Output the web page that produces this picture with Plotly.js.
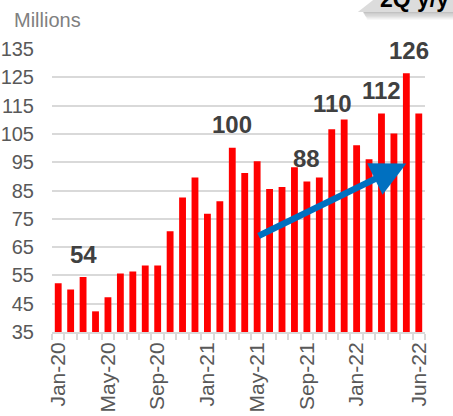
<!DOCTYPE html>
<html>
<head>
<meta charset="utf-8">
<script src="https://cdn.plot.ly/plotly-3.0.1.min.js"></script>
<style>html,body{margin:0;padding:0;background:#fff;}#chart{width:453px;height:416px;}</style>
</head>
<body>
<div id="chart"></div>
<script>
const months = ["Jan-20","Feb-20","Mar-20","Apr-20","May-20","Jun-20","Jul-20","Aug-20","Sep-20","Oct-20","Nov-20","Dec-20",
                "Jan-21","Feb-21","Mar-21","Apr-21","May-21","Jun-21","Jul-21","Aug-21","Sep-21","Oct-21","Nov-21","Dec-21",
                "Jan-22","Feb-22","Mar-22","Apr-22","May-22","Jun-22"];
const values = [52.2, 50.0, 54.4, 42.3, 47.3, 55.7, 56.4, 58.5, 58.5, 70.6, 82.5, 89.6,
                76.8, 81.2, 100.1, 91.2, 95.3, 85.5, 86.2, 93.2, 88.2, 89.6, 106.6, 110.1,
                101.0, 96.0, 112.2, 105.1, 126.4, 112.2];
const shownTicks = ["Jan-20","May-20","Sep-20","Jan-21","May-21","Sep-21","Jan-22","Jun-22"];
const labelMonths = ["Mar-20","Mar-21","Sep-21","Dec-21","Mar-22","May-22"];
const labelTexts = ["54","100","88","110","112","126"];
const trendFrom = {month: "May-21", value: 68.7};
const trendTo = {month: "May-22", value: 94.5};
const yTicks = [35,45,55,65,75,85,95,105,115,125,135];

const font = "Liberation Sans, Arial, sans-serif";

const annotations = [];
labelMonths.forEach((m, k) => {
  const i = months.indexOf(m);
  const special = labelTexts[k] === "110";
  annotations.push({
    x: m, y: values[i], xref: "x", yref: "y",
    text: "<b>" + labelTexts[k] + "</b>", showarrow: false,
    yanchor: "middle", xanchor: "center",
    yshift: special ? 16 : 23, xshift: special ? -12 : (labelTexts[k] === "126" ? 3 : 0),
    font: {family: font, size: 24, color: "#404040"}
  });
});
annotations.push({
  x: months.indexOf(trendTo.month), y: trendTo.value,
  ax: months.indexOf(trendFrom.month), ay: trendFrom.value,
  xref: "x", yref: "y", axref: "x", ayref: "y",
  text: "", showarrow: true, arrowhead: 2, arrowsize: 1.08, arrowwidth: 6.5, arrowcolor: "#0070c0"
});
annotations.push({
  x: -0.011, y: 1.102, xref: "paper", yref: "paper", text: "Millions", showarrow: false,
  xanchor: "center", yanchor: "middle", font: {family: font, size: 20, color: "#808080"}
});
annotations.push({
  x: 0.973, y: 1.175, xref: "paper", yref: "paper", text: "<b>2Q y/y</b>", showarrow: false,
  xanchor: "center", yanchor: "middle", font: {family: font, size: 23, color: "#000000"}
});

const shapes = [];
for (let s = 0; s < 6; s++) {
  shapes.push({type: "rect", xref: "paper", yref: "paper",
    x0: 0.835 + s*0.002, x1: 1.08, y0: 1.131 - (s+1)*0.0045, y1: 1.131 - s*0.0045,
    fillcolor: "rgba(120,120,120," + (0.45 - s*0.07) + ")", line: {width: 0}, layer: "above"});
}
shapes.push({type: "path", xref: "paper", yref: "paper",
  path: "M 0.820 1.131 L 0.861 1.173 L 1.08 1.173 L 1.08 1.131 Z",
  fillcolor: "#dcdcdc", line: {width: 0}, layer: "above"});

const data = [{
  type: "bar", x: months, y: values,
  marker: {color: "#ff0000", line: {width: 0}},
  hoverinfo: "skip"
}];

const layout = {
  width: 453, height: 416,
  margin: {l: 52, r: 28, t: 49, b: 84},
  paper_bgcolor: "#ffffff", plot_bgcolor: "#ffffff",
  showlegend: false, bargap: 0.45,
  font: {family: font, size: 20, color: "#595959"},
  xaxis: {
    type: "category", tickmode: "array", tickvals: months,
    ticktext: months.map(m => shownTicks.includes(m) ? m : ""),
    tickangle: -90, tickson: "boundaries", ticks: "outside", ticklen: 6, tickwidth: 2,
    tickcolor: "#d9d9d9", showline: true, linecolor: "#d9d9d9", linewidth: 2,
    showgrid: false, tickfont: {family: font, size: 21, color: "#595959"},
    range: [-0.5, months.length - 0.5]
  },
  yaxis: {
    range: [35, 135], tickmode: "array", tickvals: yTicks,
    showgrid: true, gridcolor: "#d9d9d9", gridwidth: 2, zeroline: false,
    ticks: "", ticklabelstandoff: 17,
    tickfont: {family: font, size: 20, color: "#595959"}
  },
  annotations: annotations,
  shapes: shapes
};

Plotly.newPlot("chart", data, layout, {displayModeBar: false, staticPlot: true});
</script>
</body>
</html>
